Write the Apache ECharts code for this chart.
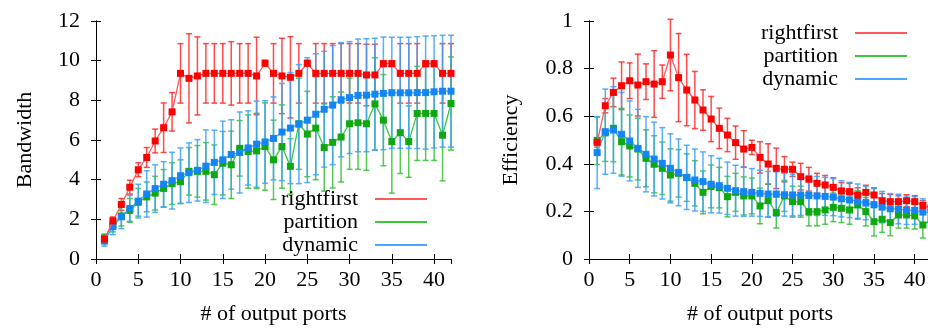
<!DOCTYPE html>
<html><head><meta charset="utf-8">
<script src="https://cdn.jsdelivr.net/npm/echarts/dist/echarts.min.js"></script>
<style>html,body{margin:0;padding:0;background:#fff}#c{width:928px;height:329px}</style>
</head><body><div id="c"></div>
<script>
// x values (# of output ports)
const ports = [1,2,3,4,5,6,7,8,9,10,11,12,13,14,15,16,17,18,19,20,21,22,23,24,25,26,27,28,29,30,31,32,33,34,35,36,37,38,39,40,41,42];
const seriesNames = ['rightfirst','partition','dynamic'];
const xTicks = [0,5,10,15,20,25,30,35,40];

// Left chart: Bandwidth
const bwRightfirst = [1.0,1.92,2.75,3.62,4.5,5.12,5.95,6.62,7.42,9.36,9.11,9.23,9.36,9.36,9.36,9.36,9.36,9.36,9.23,9.87,9.36,9.23,9.16,9.36,9.87,9.36,9.36,9.36,9.36,9.36,9.36,9.28,9.28,9.85,9.85,9.36,9.36,9.36,9.85,9.85,9.36,9.36];
const bwRightfirstErr = [0.1,0.2,0.3,0.35,0.35,0.5,0.6,1.25,0.97,1.5,2.25,1.97,1.5,1.5,1.5,1.6,1.5,1.5,1.95,0.15,1.5,1.9,2.05,1.5,0.15,1.5,1.5,1.5,1.5,1.5,1.5,1.55,1.55,0.15,0.15,1.5,1.5,1.5,0.15,0.15,1.5,1.5];
const bwPartition = [1.06,1.72,2.17,2.45,2.86,3.13,3.32,3.56,3.8,3.9,4.42,4.42,4.42,4.25,4.83,4.75,5.58,5.42,5.45,5.67,5.0,5.67,4.67,6.82,6.3,6.6,5.62,5.88,6.15,6.82,6.87,6.82,7.82,7.0,5.92,6.37,5.92,7.34,7.34,7.34,6.24,7.84];
const bwPartitionErr = [0.2,0.35,0.5,0.6,0.7,0.75,0.85,0.95,1.05,1.1,1.2,1.3,1.45,1.5,1.6,1.7,1.4,1.85,1.9,2.2,2.0,2.1,1.4,2.3,2.15,2.6,2.2,2.3,2.27,2.3,2.35,2.35,2.33,2.3,2.6,2.06,1.8,2.37,2.37,2.37,2.3,2.35];
const bwDynamic = [0.9,1.63,2.13,2.55,2.92,3.28,3.55,3.77,3.95,4.2,4.35,4.47,4.68,4.87,5.0,5.27,5.37,5.6,5.79,5.9,6.08,6.4,6.6,6.8,7.0,7.3,7.55,7.76,8.03,8.14,8.25,8.26,8.31,8.35,8.38,8.38,8.38,8.39,8.39,8.43,8.46,8.46];
const bwDynamicErr = [0.25,0.4,0.6,0.65,0.85,1.17,1.2,1.14,1.43,1.4,1.5,1.55,1.83,1.62,1.95,1.75,2.04,1.87,2.17,2.08,2.09,2.45,2.8,3.0,3.15,3.05,2.92,3.0,2.88,2.82,2.84,2.85,2.82,2.84,2.8,2.8,2.8,2.82,2.85,2.83,2.82,2.82];
const bwTicks = [0,2,4,6,8,10,12];

// Right chart: Efficiency
const efRightfirst = [0.49,0.644,0.70,0.728,0.749,0.731,0.745,0.735,0.745,0.857,0.762,0.71,0.668,0.626,0.588,0.549,0.521,0.489,0.462,0.469,0.427,0.399,0.381,0.377,0.377,0.346,0.335,0.318,0.311,0.301,0.286,0.283,0.269,0.28,0.269,0.245,0.241,0.241,0.245,0.241,0.225,0.215];
const efRightfirstErr = [0.02,0.03,0.06,0.1,0.075,0.13,0.075,0.14,0.07,0.15,0.185,0.15,0.12,0.085,0.095,0.085,0.07,0.07,0.077,0.03,0.066,0.085,0.085,0.053,0.03,0.056,0.05,0.042,0.04,0.04,0.035,0.035,0.03,0.03,0.03,0.03,0.03,0.025,0.025,0.025,0.02,0.02];
const efPartition = [0.497,0.53,0.549,0.493,0.475,0.462,0.423,0.398,0.381,0.353,0.36,0.342,0.318,0.28,0.305,0.3,0.262,0.28,0.265,0.265,0.223,0.245,0.195,0.265,0.241,0.241,0.199,0.199,0.206,0.217,0.213,0.206,0.227,0.199,0.157,0.167,0.153,0.185,0.185,0.181,0.143,0.165];
const efPartitionErr = [0.1,0.12,0.14,0.14,0.13,0.13,0.12,0.12,0.11,0.11,0.1,0.1,0.095,0.09,0.09,0.085,0.085,0.08,0.08,0.075,0.075,0.07,0.065,0.065,0.065,0.065,0.06,0.06,0.06,0.06,0.06,0.06,0.06,0.06,0.06,0.055,0.055,0.055,0.055,0.055,0.055,0.055];
const efDynamic = [0.447,0.535,0.542,0.524,0.496,0.465,0.44,0.42,0.402,0.381,0.364,0.343,0.332,0.325,0.314,0.308,0.297,0.287,0.283,0.28,0.276,0.273,0.273,0.27,0.269,0.269,0.267,0.265,0.263,0.26,0.253,0.248,0.243,0.235,0.228,0.218,0.211,0.21,0.205,0.204,0.197,0.195];
const efDynamicErr = [0.151,0.179,0.182,0.176,0.168,0.164,0.158,0.155,0.15,0.145,0.14,0.135,0.13,0.125,0.12,0.115,0.11,0.107,0.104,0.1,0.097,0.095,0.093,0.09,0.088,0.086,0.084,0.082,0.08,0.078,0.076,0.074,0.072,0.07,0.068,0.066,0.064,0.062,0.06,0.058,0.056,0.055];
const efTicks = [0,0.2,0.4,0.6,0.8,1];

const FONT = 'Liberation Serif';
const FS = 22;
const markColors = ['#ff0000','#10a810','#1584f5'];
const lineColors = ['#ff5a5a','#3cc83c','#4aa6ff'];
const barColors = ['rgba(255,30,30,0.8)','rgba(40,190,40,0.8)','rgba(60,160,255,0.85)'];

function pairs(vals){ return ports.map((p,i)=>[p, vals[i]]); }
function triples(vals, e){ return ports.map((p,i)=>[p, vals[i], e[i]]); }

function errSeries(k, gi, vals, e){
  const color = barColors[k];
  return {
    type:'custom', name: seriesNames[k] + ' error', xAxisIndex: gi*2, yAxisIndex: gi*2,
    data: triples(vals, e), z: 2, silent: true, animation:false,
    renderItem(params, api){
      const x = api.value(0), v = api.value(1), d = api.value(2);
      const t = api.coord([x, v + d]), b = api.coord([x, v - d]);
      const w = 3;
      const st = {stroke: color, lineWidth: 1.5};
      return {type:'group', children:[
        {type:'line', shape:{x1:t[0], y1:t[1], x2:b[0], y2:b[1]}, style: st},
        {type:'line', shape:{x1:t[0]-w, y1:t[1], x2:t[0]+w, y2:t[1]}, style: st},
        {type:'line', shape:{x1:b[0]-w, y1:b[1], x2:b[0]+w, y2:b[1]}, style: st}
      ]};
    }
  };
}
function lineSeries(k, gi, vals){
  return {
    type:'line', name: seriesNames[k], xAxisIndex: gi*2, yAxisIndex: gi*2,
    data: pairs(vals), symbol:'rect', symbolSize:7, showSymbol:true, animation:false,
    lineStyle:{color: lineColors[k], width:1.3}, itemStyle:{color: markColors[k]},
    z: 3 + (k === 0 ? 3 : k), emphasis:{disabled:true}
  };
}

const axisLineStyle = {show:true, lineStyle:{color:'#000', width:1}};
function xAxes(gi){
  return [{
    gridIndex: gi, type:'value', min:0, max:42, interval:5, position:'bottom',
    axisLine: axisLineStyle, axisTick:{show:true, inside:true, length:5, lineStyle:{color:'#000'}},
    axisLabel:{fontFamily:FONT, fontSize:FS, color:'#000', margin:10, showMaxLabel:false,
      formatter: v => xTicks.includes(v) ? String(v) : ''},
    splitLine:{show:false},
    name:'# of output ports', nameLocation:'middle', nameGap:44, nameMoveOverlap:false,
    nameTextStyle:{fontFamily:FONT, fontSize:FS, color:'#000'}
  },{
    gridIndex: gi, type:'value', min:0, max:42, interval:5, position:'top',
    axisLine: axisLineStyle, axisTick:{show:true, inside:true, length:5, lineStyle:{color:'#000'}},
    axisLabel:{show:false}, splitLine:{show:false}
  }];
}
function yAxes(gi, max, interval, ticks, name, gap){
  return [{
    gridIndex: gi, type:'value', min:0, max:max, interval:interval, position:'left',
    axisLine: axisLineStyle, axisTick:{show:true, inside:true, length:5, lineStyle:{color:'#000'}},
    axisLabel:{fontFamily:FONT, fontSize:FS, color:'#000', margin:16,
      formatter: v => ticks.some(t => Math.abs(t - v) < 1e-9) ? String(v) : ''},
    splitLine:{show:false},
    name:name, nameLocation:'middle', nameGap:gap, nameMoveOverlap:false,
    nameTextStyle:{fontFamily:FONT, fontSize:FS, color:'#000'}
  },{
    gridIndex: gi, type:'value', min:0, max:max, interval:interval, position:'right',
    axisLine: axisLineStyle, axisTick:{show:true, inside:true, length:5, lineStyle:{color:'#000'}},
    axisLabel:{show:false}, splitLine:{show:false}
  }];
}
function legend(right, top){
  return {
    orient:'vertical', align:'right', right:right, top:top, padding:0, itemGap:1,
    itemWidth:52, itemHeight:2, icon:'rect', selectedMode:false,
    textStyle:{fontFamily:FONT, fontSize:FS, color:'#000', padding:[0,12,0,0]},
    data: seriesNames.map((n,k)=>({name:n, itemStyle:{color: lineColors[k]}}))
  };
}

const chart = echarts.init(document.getElementById('c'), null, {renderer:'canvas'});
chart.setOption({
  animation:false,
  backgroundColor:'#fff',
  grid:[
    {left:96, top:21, right:477, bottom:70, outerBoundsMode:'none', containLabel:false},
    {left:589, top:21, right:-3, bottom:70, outerBoundsMode:'none', containLabel:false}
  ],
  xAxis: [...xAxes(0), ...xAxes(1)],
  yAxis: [...yAxes(0, 12, 2, bwTicks, 'Bandwidth', 60), ...yAxes(1, 1, 0.2, efTicks, 'Efficiency', 67)],
  legend: [legend(501, 188), legend(21, 22)],
  series: [
    errSeries(0,0,bwRightfirst,bwRightfirstErr), errSeries(1,0,bwPartition,bwPartitionErr), errSeries(2,0,bwDynamic,bwDynamicErr),
    lineSeries(1,0,bwPartition), lineSeries(2,0,bwDynamic), lineSeries(0,0,bwRightfirst),
    errSeries(0,1,efRightfirst,efRightfirstErr), errSeries(1,1,efPartition,efPartitionErr), errSeries(2,1,efDynamic,efDynamicErr),
    lineSeries(1,1,efPartition), lineSeries(2,1,efDynamic), lineSeries(0,1,efRightfirst)
  ]
});
</script></body></html>
